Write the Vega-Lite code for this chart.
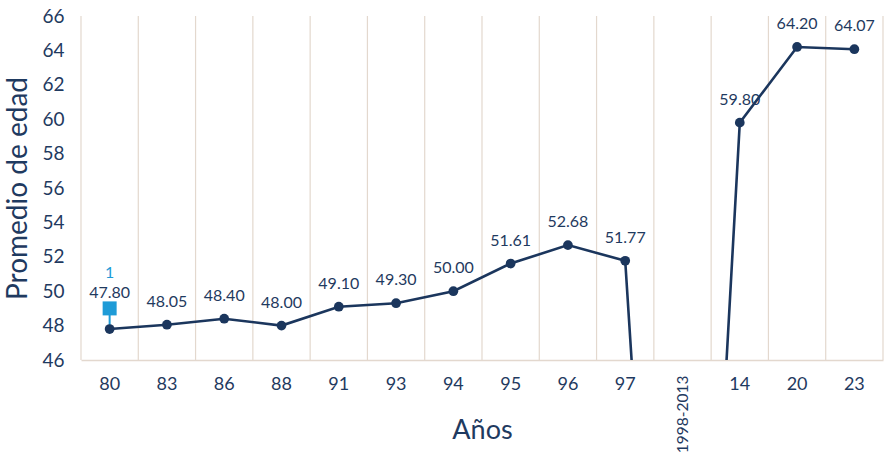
{
  "$schema": "https://vega.github.io/schema/vega-lite/v6.json",
  "width": 802,
  "height": 344,
  "autosize": {"type": "none"},
  "padding": {"left": 81, "top": 16, "right": 13, "bottom": 94},
  "config": {
    "view": {"stroke": null},
    "font": "Lato",
    "axisY": {"labelOverlap": false, "labelFontSize": 19, "labelColor": "#1f3a60", "ticks": false, "domain": false, "grid": false, "labelPadding": 17}
  },
  "datasets": {
    "main": [
      {"year": "80", "value": 47.80},
      {"year": "83", "value": 48.05},
      {"year": "86", "value": 48.40},
      {"year": "88", "value": 48.00},
      {"year": "91", "value": 49.10},
      {"year": "93", "value": 49.30},
      {"year": "94", "value": 50.00},
      {"year": "95", "value": 51.61},
      {"year": "96", "value": 52.68},
      {"year": "97", "value": 51.77},
      {"year": "1998-2013", "value": 0},
      {"year": "14", "value": 59.80},
      {"year": "20", "value": 64.20},
      {"year": "23", "value": 64.07}
    ],
    "marker": [
      {"year": "80", "value": 49.0, "base": 47.8, "label": "1"}
    ]
  },
  "data": {"name": "main"},
  "encoding": {
    "x": {
      "field": "year",
      "type": "ordinal",
      "bandPosition": 0.5,
      "scale": {
        "type": "band",
        "paddingInner": 0,
        "paddingOuter": 0,
        "domain": ["80","83","86","88","91","93","94","95","96","97","1998-2013","14","20","23"]
      },
      "axis": {
        "title": "Años",
        "titleFontSize": 27,
        "titleFontWeight": "normal",
        "titleColor": "#1f3a60",
        "titleBaseline": "alphabetic",
        "titleY": 78,
        "grid": false,
        "ticks": false,
        "domain": true,
        "domainColor": "#e3d8ce",
        "domainWidth": 1.5,
        "labelPadding": 15,
        "labelOverlap": false,
        "labelColor": "#1f3a60",
        "labelFontSize": {"condition": {"test": "datum.value === '1998-2013'", "value": 15.5}, "value": 18},
        "labelAngle": {"expr": "datum.value === '1998-2013' ? -90 : 0"},
        "labelAlign": {"condition": {"test": "datum.value === '1998-2013'", "value": "right"}, "value": "center"},
        "labelBaseline": {"condition": {"test": "datum.value === '1998-2013'", "value": "middle"}, "value": "top"}
      }
    },
    "y": {
      "field": "value",
      "type": "quantitative",
      "scale": {"domain": [46, 66], "nice": false, "zero": false},
      "axis": {
        "title": "Promedio de edad",
        "titleFontSize": 28,
        "titleFontWeight": "normal",
        "titleColor": "#1f3a60",
        "titlePadding": 9,
        "values": [46,48,50,52,54,56,58,60,62,64,66],
        "labelOverlap": false
      }
    }
  },
  "layer": [
    {
      "mark": {"type": "rule", "color": "#e3d8ce", "strokeWidth": 1.2},
      "encoding": {"x": {"field": "year", "type": "ordinal", "bandPosition": 0}, "y": {"datum": 66}, "y2": {"datum": 46}}
    },
    {
      "transform": [{"filter": "datum.year === '23'"}],
      "mark": {"type": "rule", "color": "#e3d8ce", "strokeWidth": 1.2},
      "encoding": {"x": {"field": "year", "type": "ordinal", "bandPosition": 1}, "y": {"datum": 66}, "y2": {"datum": 46}}
    },
    {
      "mark": {"type": "line", "color": "#1b365d", "strokeWidth": 2.6, "clip": true},
      "encoding": {}
    },
    {
      "data": {"name": "marker"},
      "mark": {"type": "rule", "color": "#1e9bd7", "strokeWidth": 2},
      "encoding": {"y2": {"field": "base"}}
    },
    {
      "transform": [{"filter": "datum.year !== '1998-2013'"}],
      "mark": {"type": "circle", "color": "#1b365d", "size": 95, "opacity": 1},
      "encoding": {}
    },
    {
      "transform": [{"filter": "datum.year !== '1998-2013' && datum.year !== '80'"}],
      "mark": {"type": "text", "color": "#1f3a60", "fontSize": 16, "dy": -23},
      "encoding": {
        "text": {"field": "value", "type": "quantitative", "format": ".2f"}
      }
    },
    {
      "transform": [{"filter": "datum.year === '80'"}],
      "mark": {"type": "text", "color": "#1f3a60", "fontSize": 16, "dy": -36},
      "encoding": {
        "text": {"field": "value", "type": "quantitative", "format": ".2f"}
      }
    },
    {
      "data": {"name": "marker"},
      "mark": {"type": "square", "color": "#1e9bd7", "size": 196, "opacity": 1},
      "encoding": {}
    },
    {
      "data": {"name": "marker"},
      "mark": {"type": "text", "color": "#1e9bd7", "fontSize": 16, "dy": -35},
      "encoding": {
        "text": {"field": "label"}
      }
    }
  ]
}
